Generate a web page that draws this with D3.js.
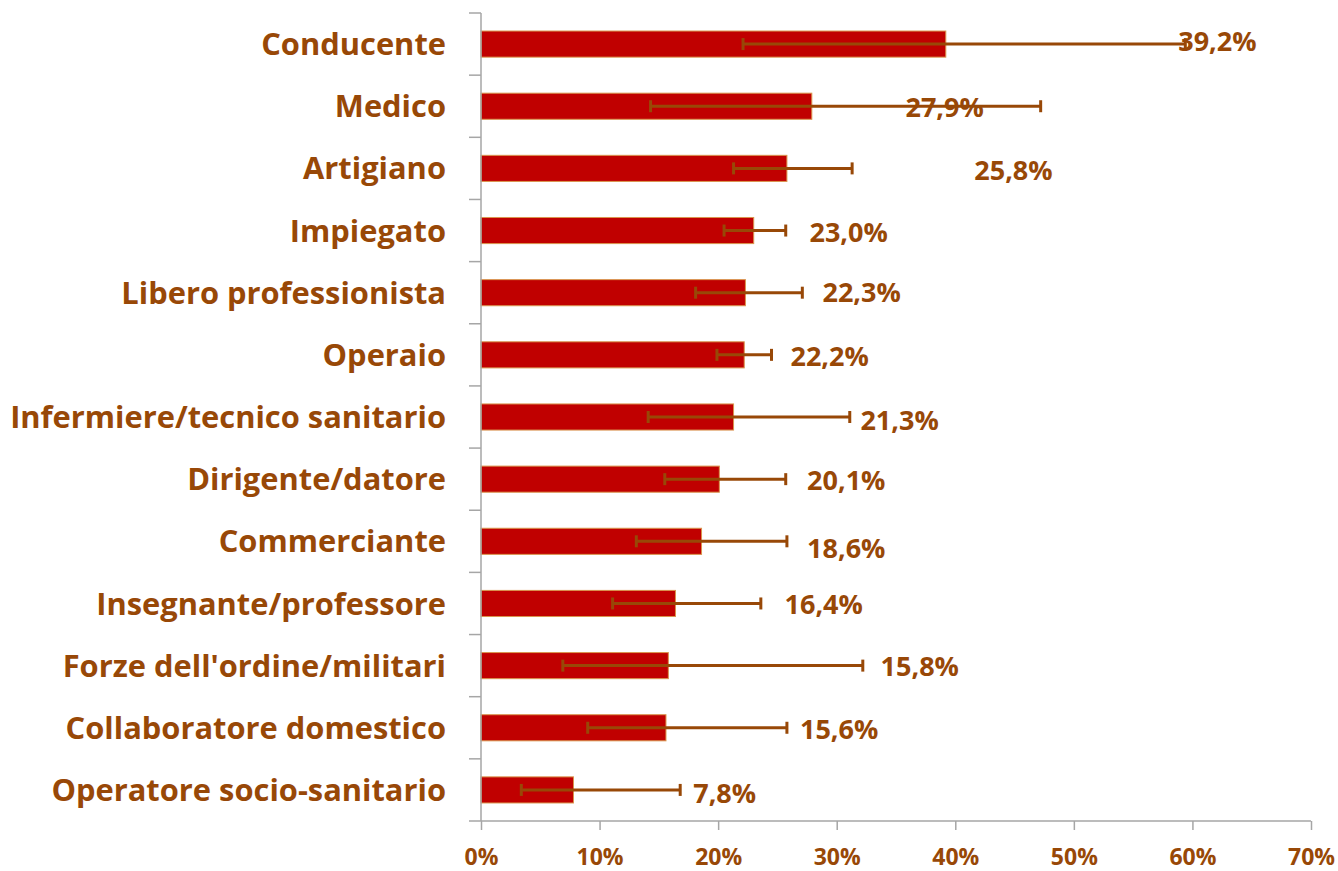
<!DOCTYPE html>
<html>
<head>
<meta charset="utf-8">
<script src="https://cdn.jsdelivr.net/npm/d3@7"></script>
<style>
  html, body { margin: 0; padding: 0; background: #ffffff; }
  svg { display: block; }
  text { font-family: "Open Sans", Lato, sans-serif; font-weight: bold; }
</style>
</head>
<body>
<svg id="chart" width="1338" height="871"></svg>
<script>
// ---- data ----
const categories = [
  "Conducente", "Medico", "Artigiano", "Impiegato", "Libero professionista",
  "Operaio", "Infermiere/tecnico sanitario", "Dirigente/datore", "Commerciante",
  "Insegnante/professore", "Forze dell'ordine/militari", "Collaboratore domestico",
  "Operatore socio-sanitario"
];
const values   = [39.2, 27.9, 25.8, 23.0, 22.3, 22.2, 21.3, 20.1, 18.6, 16.4, 15.8, 15.6, 7.8];
const errLow   = [22.1, 14.3, 21.3, 20.5, 18.1, 19.9, 14.1, 15.5, 13.1, 11.1, 6.9, 9.0, 3.4];
const errHigh  = [59.4, 47.2, 31.3, 25.7, 27.1, 24.5, 31.1, 25.7, 25.8, 23.6, 32.2, 25.8, 16.8];
const xTicks   = [0, 10, 20, 30, 40, 50, 60, 70];

// ---- layout of the (manually placed) value labels: start in axis units, vertical nudge in px ----
const labelAt  = [58.8, 35.8, 41.6, 27.7, 28.8, 26.1, 32.0, 27.5, 27.5, 25.6, 33.7, 26.9, 17.9];
const labelDy  = [-3, 1, 2, 1.5, 0, 1, 3.5, 1, 7, 0.5, 1, 2, 3];

const brown = "#984807";
const barFill = "#C00000";
const axisCol = "#a6a6a6";

const svg = d3.select("#chart");
const mLeft = 481, mRight = 1311, mTop = 13, mBottom = 821;

const x = d3.scaleLinear().domain([0, 70]).range([mLeft, mRight]);
const cell = d3.scaleBand().domain(categories).range([mTop, mBottom]).padding(0);
const barH = cell.bandwidth() * 0.42;
const cy = d => cell(d) + cell.bandwidth() / 2;

const rows = categories.map((c, i) => ({
  c, v: values[i], lo: errLow[i], hi: errHigh[i], la: labelAt[i], dy: labelDy[i]
}));

// bars
svg.append("g").selectAll("rect").data(rows).join("rect")
  .attr("x", x(0))
  .attr("y", d => cy(d.c) - barH / 2)
  .attr("width", d => x(d.v) - x(0))
  .attr("height", barH)
  .attr("fill", barFill)
  .attr("stroke", "#d9954e")
  .attr("stroke-width", 1);

// error bars
const eb = svg.append("g").attr("stroke", brown).attr("stroke-width", 3).attr("fill", "none");
eb.selectAll("line.h").data(rows).join("line").attr("class", "h")
  .attr("x1", d => x(d.lo)).attr("x2", d => x(d.hi))
  .attr("y1", d => cy(d.c)).attr("y2", d => cy(d.c));
eb.selectAll("line.l").data(rows).join("line").attr("class", "l")
  .attr("x1", d => x(d.lo)).attr("x2", d => x(d.lo))
  .attr("y1", d => cy(d.c) - 6).attr("y2", d => cy(d.c) + 6);
eb.selectAll("line.r").data(rows).join("line").attr("class", "r")
  .attr("x1", d => x(d.hi)).attr("x2", d => x(d.hi))
  .attr("y1", d => cy(d.c) - 6).attr("y2", d => cy(d.c) + 6);

// value labels
const fmt = v => v.toFixed(1).replace(".", ",") + "%";
svg.append("g").selectAll("text").data(rows).join("text")
  .attr("x", d => x(d.la))
  .attr("y", d => cy(d.c) + d.dy)
  .attr("dy", "0.36em")
  .attr("fill", brown)
  .attr("font-size", 27)
  .text(d => fmt(d.v));

// y axis (category)
const ya = svg.append("g").attr("stroke", axisCol).attr("stroke-width", 1.5);
ya.append("line").attr("x1", mLeft).attr("x2", mLeft).attr("y1", mTop).attr("y2", mBottom);
ya.selectAll("line.t").data(categories).join("line").attr("class", "t")
  .attr("x1", mLeft - 12).attr("x2", mLeft)
  .attr("y1", d => cell(d)).attr("y2", d => cell(d));

const catLabels = svg.append("g").selectAll("text").data(categories).join("text")
  .attr("x", 446)
  .attr("y", d => cy(d))
  .attr("dy", "0.36em")
  .attr("text-anchor", "end")
  .attr("fill", brown)
  .attr("font-size", 31)
  .text(d => d);
// fit the widest category label to the reference's label column width
const widest = d3.max(catLabels.nodes(), n => n.getComputedTextLength());
const catSize = Math.max(26, Math.min(34, 31 * 436 / widest));
catLabels.attr("font-size", catSize);

// x axis
const xa = svg.append("g").attr("transform", `translate(0,${mBottom})`);
xa.call(d3.axisBottom(x).tickValues(xTicks).tickSize(9).tickFormat(d => d + "%"));
xa.select(".domain").remove();
xa.append("line").attr("x1", mLeft - 12).attr("x2", mRight).attr("y1", 0).attr("y2", 0)
  .attr("stroke", axisCol).attr("stroke-width", 1.5);
xa.selectAll(".tick line").attr("stroke", axisCol).attr("stroke-width", 1.5);
xa.selectAll(".tick text")
  .attr("fill", brown)
  .attr("font-size", 23)
  .attr("font-family", "'Open Sans', Lato, sans-serif")
  .attr("font-weight", "bold")
  .attr("y", 36)
  .attr("dy", "0.36em");
</script>
</body>
</html>
